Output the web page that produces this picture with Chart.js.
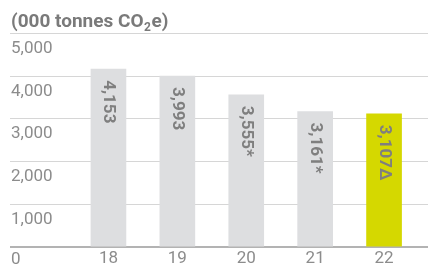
<!DOCTYPE html>
<html>
<head>
<meta charset="utf-8">
<script src="https://cdn.jsdelivr.net/npm/chart.js@4"></script>
<style>
  html, body { margin: 0; padding: 0; background: #fff; }
  #wrap { width: 430px; height: 271px; }
</style>
</head>
<body>
<div id="wrap"><canvas id="co2Chart" width="430" height="271"></canvas></div>
<script>
// data
const years = ['18', '19', '20', '21', '22'];
const emissions = [4153, 3993, 3555, 3161, 3107];
const marks = ['', '', '*', '*', 'Δ'];
const yTicks = [0, 1000, 2000, 3000, 4000, 5000];
const unitLabel = ['(000 tonnes CO', '2', 'e)'];

const GREY = '#8c8c8c';
const barColors = emissions.map((v, i) => i === emissions.length - 1 ? '#d5d800' : '#dddee0');
const fmt = v => v.toLocaleString('en-US');

// gridlines across full width, y labels under each line, unit title
const frame = {
  id: 'frame',
  beforeDatasetsDraw(chart) {
    const { ctx, scales: { y } } = chart;
    const x0 = 10, x1 = 428;
    ctx.save();
    yTicks.forEach(t => {
      const py = Math.round(y.getPixelForValue(t));
      ctx.beginPath();
      if (t === 0) {
        ctx.strokeStyle = '#b3b3b3';
        ctx.lineWidth = 2;
        ctx.moveTo(x0, py); ctx.lineTo(x1, py);
      } else {
        ctx.strokeStyle = '#d6d6d6';
        ctx.lineWidth = 1;
        ctx.moveTo(x0, py + 0.5); ctx.lineTo(x1, py + 0.5);
      }
      ctx.stroke();
      ctx.fillStyle = GREY;
      ctx.font = '17px Roboto, sans-serif';
      ctx.textAlign = 'left';
      ctx.textBaseline = 'top';
      ctx.fillText(fmt(t), x0 + 1, py + (t === 0 ? 4 : 7));
    });
    // unit title with subscript
    ctx.fillStyle = '#7a7a7a';
    ctx.textBaseline = 'alphabetic';
    let tx = x0 + 1;
    const by = 27;
    ctx.font = 'bold 19px Roboto, sans-serif';
    ctx.fillText(unitLabel[0], tx, by);
    tx += ctx.measureText(unitLabel[0]).width + 0.5;
    ctx.font = 'bold 12px Roboto, sans-serif';
    ctx.fillText(unitLabel[1], tx, by + 4);
    tx += ctx.measureText(unitLabel[1]).width + 0.5;
    ctx.font = 'bold 19px Roboto, sans-serif';
    ctx.fillText(unitLabel[2], tx, by);
    ctx.restore();
  },
  afterDatasetsDraw(chart) {
    const { ctx } = chart;
    const meta = chart.getDatasetMeta(0);
    ctx.save();
    ctx.fillStyle = '#7f7f7f';
    ctx.font = 'bold 17px Roboto, sans-serif';
    ctx.textAlign = 'left';
    ctx.textBaseline = 'middle';
    meta.data.forEach((bar, i) => {
      ctx.save();
      ctx.translate(bar.x, bar.y + 11);
      ctx.rotate(Math.PI / 2);
      ctx.fillText(fmt(emissions[i]) + marks[i], 0, 0);
      ctx.restore();
    });
    ctx.restore();
  }
};

const ctx = document.getElementById('co2Chart').getContext('2d');
new Chart(ctx, {
  type: 'bar',
  data: {
    labels: years,
    datasets: [{
      data: emissions,
      backgroundColor: barColors,
      borderWidth: 0,
      barThickness: 35
    }]
  },
  options: {
    responsive: false,
    animation: false,
    layout: { padding: { left: 74, right: 11.5, top: 33, bottom: 0 } },
    plugins: { legend: { display: false }, tooltip: { enabled: false } },
    scales: {
      x: {
        grid: { display: false, drawTicks: false, tickLength: 0 },
        border: { display: false },
        ticks: { color: GREY, font: { family: 'Roboto', size: 17 }, padding: 2 }
      },
      y: {
        display: false,
        min: 0,
        max: 5000
      }
    }
  },
  plugins: [frame]
});
</script>
</body>
</html>
